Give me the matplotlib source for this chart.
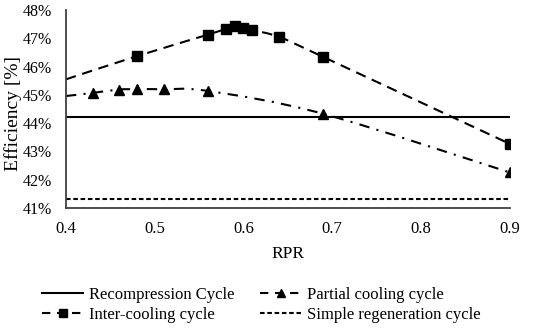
import numpy as np
import matplotlib
matplotlib.use("Agg")
import matplotlib.pyplot as plt
from matplotlib.path import Path
from matplotlib.patches import PathPatch
from matplotlib.lines import Line2D

plt.rcParams['font.family'] = ['Liberation Serif', 'DejaVu Serif']

# Data
rpr_inter = [0.40, 0.48, 0.56, 0.58, 0.59, 0.60, 0.61, 0.64, 0.69, 0.90]
eff_inter = [45.55, 46.37, 47.13, 47.33, 47.42, 47.38, 47.29, 47.05, 46.34, 43.27]

rpr_partial = [0.40, 0.43, 0.46, 0.48, 0.51, 0.56, 0.69, 0.90]
eff_partial = [44.96, 45.07, 45.19, 45.20, 45.20, 45.14, 44.33, 42.26]

recompression = 44.22
simple_regen = 41.33

x_range = [0.4, 0.9]
yticks = [41, 42, 43, 44, 45, 46, 47, 48]
xticks = [0.4, 0.5, 0.6, 0.7, 0.8, 0.9]


def smooth_path(xs, ys, tension=1/6):
    xs = np.asarray(xs, float); ys = np.asarray(ys, float)
    n = len(xs)
    verts = [(xs[0], ys[0])]
    codes = [Path.MOVETO]
    for i in range(n - 1):
        p0 = np.array([xs[max(i - 1, 0)], ys[max(i - 1, 0)]])
        p1 = np.array([xs[i], ys[i]])
        p2 = np.array([xs[i + 1], ys[i + 1]])
        p3 = np.array([xs[min(i + 2, n - 1)], ys[min(i + 2, n - 1)]])
        c1 = p1 + (p2 - p0) * tension
        c2 = p2 - (p3 - p1) * tension
        verts += [tuple(c1), tuple(c2), tuple(p2)]
        codes += [Path.CURVE4] * 3
    return Path(verts, codes)


fig = plt.figure(figsize=(5.36, 3.34), dpi=100)
ax = fig.add_axes([0.123, 0.377, 0.828, 0.593])

lw = 1.5
black = 'black'

# Recompression
ax.axhline(recompression, color=black, lw=lw, xmin=0, xmax=1)
# Simple regeneration
ax.axhline(simple_regen, color=black, lw=lw, ls=(0, (2.2, 1.3)))

# Inter-cooling (smoothed dashed)
pi = PathPatch(smooth_path(rpr_inter, eff_inter), fill=False, edgecolor=black,
               lw=lw, ls=(0, (5, 3.2)), transform=ax.transData)
ax.add_patch(pi)
ax.plot(rpr_inter[1:], eff_inter[1:], ls='none', marker='s', ms=6.5, color=black)

# Partial cooling (smoothed dash-dot)
pp = PathPatch(smooth_path(rpr_partial, eff_partial), fill=False, edgecolor=black,
               lw=lw, ls=(0, (5, 3.5, 1, 3.5)), transform=ax.transData)
ax.add_patch(pp)
ax.plot(rpr_partial[1:], eff_partial[1:], ls='none', marker='^', ms=7, color=black)

ax.set_xlim(x_range)
ax.set_ylim(41, 48)
ax.set_xticks(xticks)
ax.set_xticklabels([f"{t:.1f}" for t in xticks])
ax.set_yticks(yticks)
ax.set_yticklabels([f"{t}%" for t in yticks])
ax.tick_params(length=0, labelsize=12, pad=9)
ax.tick_params(axis='y', labelsize=11.5, pad=10)
for s in ['top', 'right']:
    ax.spines[s].set_visible(False)
for s in ['left', 'bottom']:
    ax.spines[s].set_color('#404040')
    ax.spines[s].set_linewidth(1.3)
ax.set_xlabel("RPR", fontsize=12.5, labelpad=7)
ax.set_ylabel("Efficiency [%]", fontsize=14)
ax.yaxis.set_label_coords(-0.12, 0.48)
ax.yaxis.label.set_verticalalignment('center')
ax.patch.set_alpha(0)

handles = [
    Line2D([], [], color=black, lw=lw),
    Line2D([], [], color=black, lw=lw, ls=(0, (4, 3.2)), marker='s', ms=6),
    Line2D([], [], color=black, lw=lw, ls=(0, (4, 3.2)), marker='^', ms=6),
    Line2D([], [], color=black, lw=lw, ls=(0, (2.2, 1.3))),
]
labels = ["Recompression Cycle", "Inter-cooling cycle",
          "Partial cooling cycle", "Simple regeneration cycle"]
fig.legend(handles, labels, loc='upper left', bbox_to_anchor=(0.078, 0.14),
           ncol=2, frameon=False, fontsize=12, handlelength=2.5,
           handletextpad=0.35, columnspacing=1.5, labelspacing=0.2,
           borderaxespad=0, borderpad=0)

fig.savefig("out.png", dpi=100)
